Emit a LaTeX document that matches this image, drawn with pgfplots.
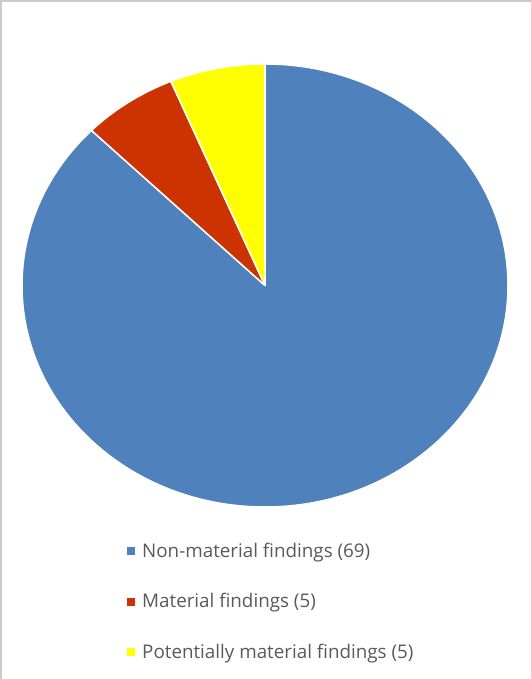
\documentclass[border=0pt]{standalone}
\usepackage{pgfplots}
\pgfplotsset{compat=1.18}
\usepackage{fontspec}
\setmainfont{Open Sans}
\definecolor{cblue}{HTML}{4F81BD}
\definecolor{cred}{HTML}{CC3300}
\definecolor{cyellow}{HTML}{FFFF00}
\definecolor{ctext}{HTML}{595959}
\definecolor{cborder}{HTML}{CCCCCC}
\begin{document}
\begin{tikzpicture}
% data
\def\va{69}\def\vb{5}\def\vc{5}
\pgfmathsetmacro\tot{\va+\vb+\vc}
\pgfmathsetmacro\aA{90}
\pgfmathsetmacro\aB{90-360*(\va/\tot)}
\pgfmathsetmacro\aC{\aB-360*(\vb/\tot)}
\pgfmathsetmacro\aD{\aC-360*(\vc/\tot)}
\begin{axis}[
  width=531bp, height=679bp, scale only axis,
  xmin=0, xmax=531, ymin=0, ymax=679,
  hide axis, clip=false,
  legend cell align=left,
  legend image code/.code={\fill[draw=none,#1] (0bp,-4bp) rectangle (8bp,4bp);},
  legend style={at={(axis cs:127,136.5)}, anchor=north west, draw=none, fill=none,
    font=\fontsize{18.8bp}{22bp}\selectfont\color{ctext}, row sep=35bp, inner sep=0pt,
    nodes={inner xsep=7bp, inner ysep=0pt}},
]
\path (axis cs:0,0) rectangle (axis cs:531,679);
\fill[cborder] (axis cs:0,677) rectangle (axis cs:531,679);
\fill[cborder] (axis cs:0,0) rectangle (axis cs:2,679);
\coordinate (c) at (axis cs:265,393.5);
\filldraw[fill=cblue, draw=white, line width=1.5bp, line join=round] (c) -- +(\aA:243bp and 221.5bp) arc[start angle=\aA, end angle=\aB, x radius=243bp, y radius=221.5bp] -- cycle;
\filldraw[fill=cred, draw=white, line width=1.5bp, line join=round] (c) -- +(\aB:243bp and 221.5bp) arc[start angle=\aB, end angle=\aC, x radius=243bp, y radius=221.5bp] -- cycle;
\filldraw[fill=cyellow, draw=white, line width=1.5bp, line join=round] (c) -- +(\aC:243bp and 221.5bp) arc[start angle=\aC, end angle=\aD, x radius=243bp, y radius=221.5bp] -- cycle;
\addlegendimage{fill=cblue}
\addlegendentry{Non-material findings (69)}
\addlegendimage{fill=cred}
\addlegendentry{Material findings (5)}
\addlegendimage{fill=cyellow}
\addlegendentry{Potentially material findings (5)}
\end{axis}
\end{tikzpicture}
\end{document}
